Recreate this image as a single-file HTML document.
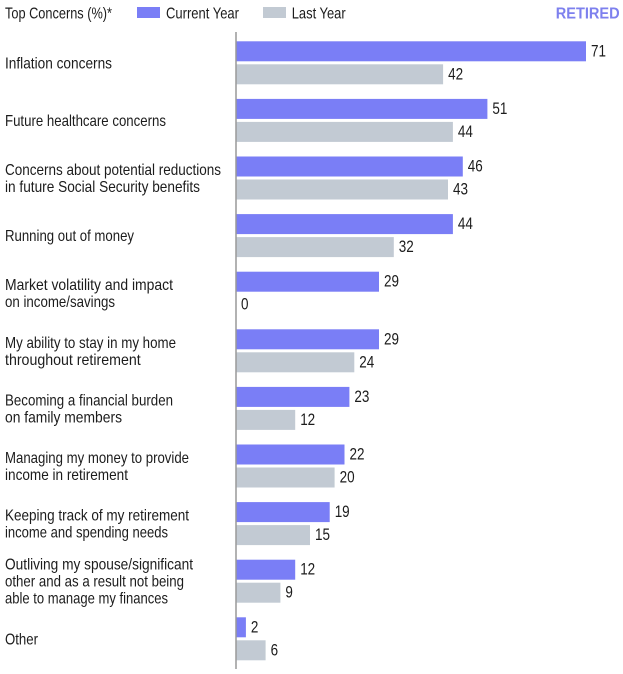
<!DOCTYPE html>
<html>
<head>
<meta charset="utf-8">
<style>
html,body{margin:0;padding:0;background:#fff;}
svg{display:block;}
text{font-family:"Liberation Sans",sans-serif;font-size:16px;fill:#1c1c1c;}
.v text{font-size:17px;}
</style>
</head>
<body>
<svg width="623" height="674" viewBox="0 0 623 674" xmlns="http://www.w3.org/2000/svg">
<rect width="623" height="674" fill="#fff"/>
<!-- header / legend -->
<text x="5" y="18.3" textLength="107" lengthAdjust="spacingAndGlyphs">Top Concerns (%)*</text>
<rect x="137" y="7" width="23" height="11" fill="#7a7ef6"/>
<text x="166" y="18.3" textLength="73" lengthAdjust="spacingAndGlyphs">Current Year</text>
<rect x="263" y="7" width="23" height="11" fill="#c2cad3"/>
<text x="291.7" y="18.3" textLength="54" lengthAdjust="spacingAndGlyphs">Last Year</text>
<text x="555.7" y="18.3" textLength="64" lengthAdjust="spacingAndGlyphs" style="font-weight:bold;fill:#7d80ee;font-size:15.5px;">RETIRED</text>

<!-- bars -->
<g fill="#7a7ef6">
<rect x="236" y="41.3" width="350" height="20"/>
<rect x="236" y="98.9" width="251.4" height="20"/>
<rect x="236" y="156.5" width="226.8" height="20"/>
<rect x="236" y="214.1" width="216.9" height="20"/>
<rect x="236" y="271.7" width="143" height="20"/>
<rect x="236" y="329.3" width="143" height="20"/>
<rect x="236" y="386.9" width="113.4" height="20"/>
<rect x="236" y="444.5" width="108.5" height="20"/>
<rect x="236" y="502.1" width="93.7" height="20"/>
<rect x="236" y="559.7" width="59.2" height="20"/>
<rect x="236" y="617.3" width="9.9" height="20"/>
</g>
<g fill="#c2cad3">
<rect x="236" y="64.3" width="207.1" height="20"/>
<rect x="236" y="121.9" width="216.9" height="20"/>
<rect x="236" y="179.5" width="212" height="20"/>
<rect x="236" y="237.1" width="157.8" height="20"/>
<rect x="236" y="352.3" width="118.3" height="20"/>
<rect x="236" y="409.9" width="59.2" height="20"/>
<rect x="236" y="467.5" width="98.6" height="20"/>
<rect x="236" y="525.1" width="74" height="20"/>
<rect x="236" y="582.7" width="44.4" height="20"/>
<rect x="236" y="640.3" width="29.6" height="20"/>
</g>
<line x1="236" y1="32" x2="236" y2="669" stroke="#999" stroke-width="1.5"/>

<!-- value labels -->
<g class="v">
<text x="591" y="56.3" textLength="15" lengthAdjust="spacingAndGlyphs">71</text>
<text x="448.1" y="79.3" textLength="15" lengthAdjust="spacingAndGlyphs">42</text>
<text x="492.4" y="113.9" textLength="15" lengthAdjust="spacingAndGlyphs">51</text>
<text x="457.9" y="136.9" textLength="15" lengthAdjust="spacingAndGlyphs">44</text>
<text x="467.8" y="171.5" textLength="15" lengthAdjust="spacingAndGlyphs">46</text>
<text x="453" y="194.5" textLength="15" lengthAdjust="spacingAndGlyphs">43</text>
<text x="457.9" y="229.1" textLength="15" lengthAdjust="spacingAndGlyphs">44</text>
<text x="398.8" y="252.1" textLength="15" lengthAdjust="spacingAndGlyphs">32</text>
<text x="384" y="286.7" textLength="15" lengthAdjust="spacingAndGlyphs">29</text>
<text x="241" y="309.7" textLength="7.5" lengthAdjust="spacingAndGlyphs">0</text>
<text x="384" y="344.3" textLength="15" lengthAdjust="spacingAndGlyphs">29</text>
<text x="359.3" y="367.3" textLength="15" lengthAdjust="spacingAndGlyphs">24</text>
<text x="354.4" y="401.9" textLength="15" lengthAdjust="spacingAndGlyphs">23</text>
<text x="300.2" y="424.9" textLength="15" lengthAdjust="spacingAndGlyphs">12</text>
<text x="349.5" y="459.5" textLength="15" lengthAdjust="spacingAndGlyphs">22</text>
<text x="339.6" y="482.5" textLength="15" lengthAdjust="spacingAndGlyphs">20</text>
<text x="334.7" y="517.1" textLength="15" lengthAdjust="spacingAndGlyphs">19</text>
<text x="315" y="540.1" textLength="15" lengthAdjust="spacingAndGlyphs">15</text>
<text x="300.2" y="574.7" textLength="15" lengthAdjust="spacingAndGlyphs">12</text>
<text x="285.4" y="597.7" textLength="7.5" lengthAdjust="spacingAndGlyphs">9</text>
<text x="250.9" y="632.3" textLength="7.5" lengthAdjust="spacingAndGlyphs">2</text>
<text x="270.6" y="655.3" textLength="7.5" lengthAdjust="spacingAndGlyphs">6</text>
</g>

<!-- category labels -->
<text x="5" y="68.3" textLength="107" lengthAdjust="spacingAndGlyphs">Inflation concerns</text>
<text x="5" y="125.9" textLength="161" lengthAdjust="spacingAndGlyphs">Future healthcare concerns</text>
<text x="5" y="175" textLength="216" lengthAdjust="spacingAndGlyphs">Concerns about potential reductions</text>
<text x="5" y="192" textLength="195" lengthAdjust="spacingAndGlyphs">in future Social Security benefits</text>
<text x="5" y="241.1" textLength="129" lengthAdjust="spacingAndGlyphs">Running out of money</text>
<text x="5" y="290.2" textLength="168" lengthAdjust="spacingAndGlyphs">Market volatility and impact</text>
<text x="5" y="307.2" textLength="110" lengthAdjust="spacingAndGlyphs">on income/savings</text>
<text x="5" y="347.8" textLength="171" lengthAdjust="spacingAndGlyphs">My ability to stay in my home</text>
<text x="5" y="364.8" textLength="135.7" lengthAdjust="spacingAndGlyphs">throughout retirement</text>
<text x="5" y="405.4" textLength="168" lengthAdjust="spacingAndGlyphs">Becoming a financial burden</text>
<text x="5" y="422.4" textLength="117" lengthAdjust="spacingAndGlyphs">on family members</text>
<text x="5" y="463" textLength="184" lengthAdjust="spacingAndGlyphs">Managing my money to provide</text>
<text x="5" y="480" textLength="123" lengthAdjust="spacingAndGlyphs">income in retirement</text>
<text x="5" y="520.6" textLength="184" lengthAdjust="spacingAndGlyphs">Keeping track of my retirement</text>
<text x="5" y="537.6" textLength="163" lengthAdjust="spacingAndGlyphs">income and spending needs</text>
<text x="5" y="569.7" textLength="188" lengthAdjust="spacingAndGlyphs">Outliving my spouse/significant</text>
<text x="5" y="586.7" textLength="179" lengthAdjust="spacingAndGlyphs">other and as a result not being</text>
<text x="5" y="603.7" textLength="163" lengthAdjust="spacingAndGlyphs">able to manage my finances</text>
<text x="5" y="644.3" textLength="33" lengthAdjust="spacingAndGlyphs">Other</text>
</svg>
</body>
</html>
